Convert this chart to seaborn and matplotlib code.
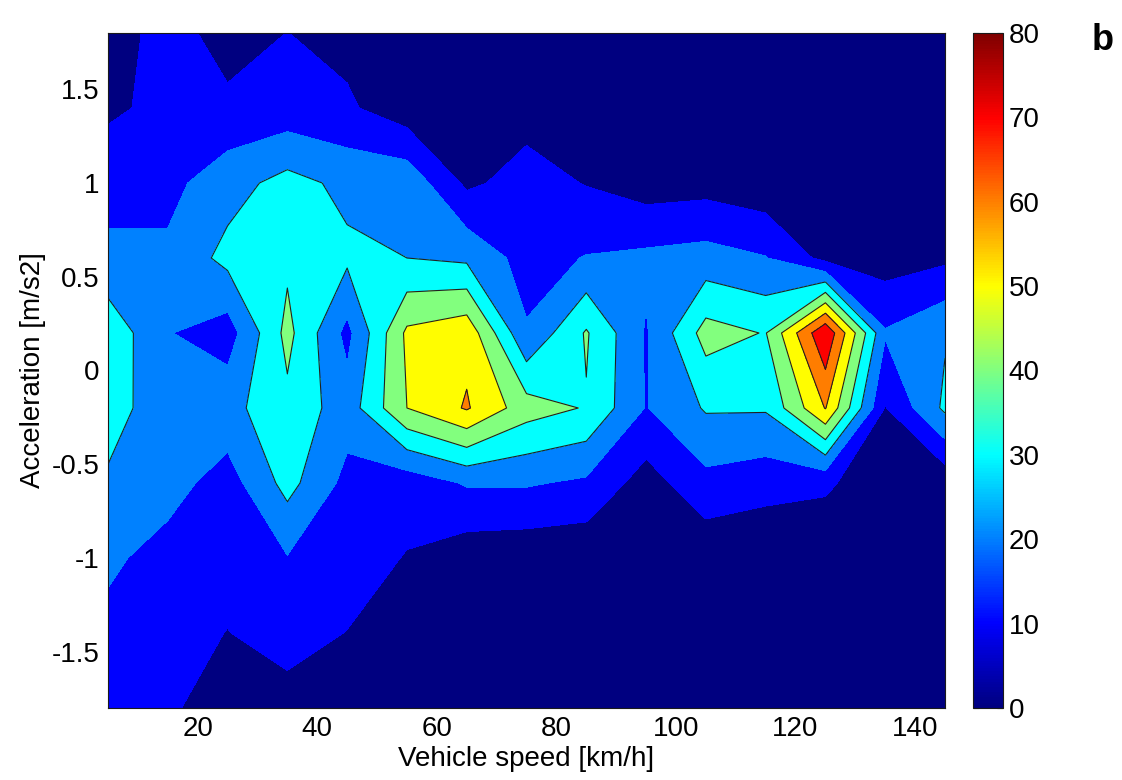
import numpy as np
import matplotlib
matplotlib.use("Agg")
import matplotlib.pyplot as plt
import seaborn as sns
from matplotlib.colors import LinearSegmentedColormap, Normalize
from matplotlib.cm import ScalarMappable

# grid of the map
speed = [5, 15, 25, 35, 45, 55, 65, 75, 85, 95, 105, 115, 125, 135, 145]
accel = [-1.8, -1.4, -1.0, -0.6, -0.2, 0.2, 0.6, 1.0, 1.4, 1.8]

# values along speed, one list per acceleration row
acc_m18 = [14, 11.5, 5, 7, 6, 2, 0, 0, 0, 0, 0, 0, 0, 0, 0]
acc_m14 = [17, 13, 9.8, 13, 9.8, 5, 1, 1, 1, 0, 1, 0, 0, 0, 0]
acc_m10 = [22, 16, 13, 19.5, 14, 9.5, 4, 3, 2.3, 1, 2.4, 1, 1, 0, 0]
acc_m06 = [28, 24, 15.4, 33.5, 17, 14, 21, 21, 18.3, 5.5, 17, 14, 12, 2, 3]
acc_m02 = [36, 21.7, 26.6, 37.5, 24.5, 50, 61, 44.5, 39.3, 19.5, 31, 31, 60.5, 9.5, 32]
acc_p02 = [37, 20.5, 15, 43, 17, 52, 57, 21, 41, 19, 44, 39.5, 79, 21, 29]
acc_p06 = [22, 22, 33, 38, 32, 30, 28, 16, 20.5, 22.3, 24, 20.5, 7, 5, 8]
acc_p10 = [17, 17, 26, 33.5, 27.5, 27, 8, 14, 9.5, 5, 6, 3, 2, 2, 3]
acc_p14 = [8, 13, 12, 13.8, 11.5, 4, 4, 6, 3, 2, 2, 1, 1, 1, 1]
acc_p18 = [5, 14, 6, 10.1, 7, 2, 1, 1, 1, 1, 0, 0, 0, 0, 0]

levels = [0, 10, 20, 30, 40, 50, 60, 70, 80]
xticks = [20, 40, 60, 80, 100, 120, 140]
yticks = [-1.5, -1, -0.5, 0, 0.5, 1, 1.5]
ylabels = ["-1.5", "-1", "-0.5", "0", "0.5", "1", "1.5"]

sns.set_theme(style="white")
plt.rcParams['font.family'] = ['Liberation Sans', 'DejaVu Sans']
plt.rcParams['text.color'] = 'black'
plt.rcParams['axes.labelcolor'] = 'black'
plt.rcParams['xtick.color'] = 'black'
plt.rcParams['ytick.color'] = 'black'

# MATLAB style jet
jet = LinearSegmentedColormap.from_list(
    "matlab_jet",
    [(0, (0, 0, 0.5)), (0.125, (0, 0, 1)), (0.375, (0, 1, 1)),
     (0.625, (1, 1, 0)), (0.875, (1, 0, 0)), (1, (0.5, 0, 0))])
fill_colors = [jet(l / 80) for l in levels[:-1]]

Z = np.array([acc_m18, acc_m14, acc_m10, acc_m06, acc_m02,
              acc_p02, acc_p06, acc_p10, acc_p14, acc_p18])

fig = plt.figure(figsize=(11.22, 7.8), dpi=100)
ax = fig.add_axes([108 / 1122, 72 / 780, 837 / 1122, 675 / 780])
cax = fig.add_axes([973 / 1122, 72 / 780, 30 / 1122, 675 / 780])

ax.contourf(speed, accel, Z, levels=levels, colors=fill_colors)
ax.contour(speed, accel, Z, levels=levels[3:8], colors="#202020", linewidths=0.8)

ax.set_xlim(5, 145)
ax.set_ylim(-1.8, 1.8)
ax.set_xticks(xticks)
ax.set_yticks(yticks)
ax.set_yticklabels(ylabels)
ax.tick_params(direction="in", length=5, width=0.8, bottom=True, left=True,
               top=True, right=True, labelsize=20, pad=6)
ax.set_xlabel("Vehicle speed [km/h]", fontsize=20, labelpad=3)
ax.set_ylabel("Acceleration [m/s2]", fontsize=20, labelpad=4)
for s in ax.spines.values():
    s.set_color("k")
    s.set_linewidth(0.8)

cb = fig.colorbar(ScalarMappable(norm=Normalize(0, 80), cmap=jet), cax=cax,
                  ticks=levels)
cb.ax.tick_params(direction="in", length=4, width=0.8, left=True, right=True,
                  labelsize=20, pad=4)
cb.outline.set_edgecolor("k")
cb.outline.set_linewidth(0.8)

fig.text(1103 / 1122, 1 - 40 / 780, "b", fontsize=26, fontweight="bold",
         ha="center", va="center")

fig.savefig("out.png", dpi=100)
